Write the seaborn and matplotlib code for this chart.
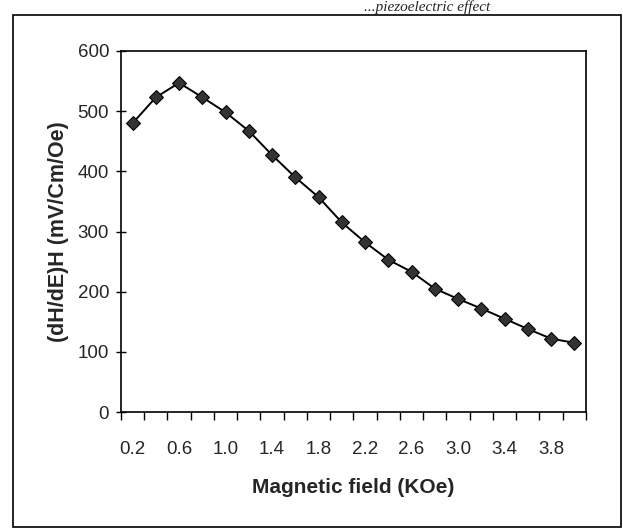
import numpy as np
import pandas as pd
import matplotlib
matplotlib.use("Agg")
import matplotlib.pyplot as plt
import seaborn as sns
from matplotlib.patches import Rectangle
from matplotlib.ticker import FixedLocator

# data
field = [0.2, 0.4, 0.6, 0.8, 1.0, 1.2, 1.4, 1.6, 1.8, 2.0,
         2.2, 2.4, 2.6, 2.8, 3.0, 3.2, 3.4, 3.6, 3.8, 4.0]
me_coeff = [480, 523, 547, 523, 498, 467, 427, 390, 357, 315,
            282, 253, 233, 205, 188, 172, 155, 138, 122, 115]
xtick_labels = ["0.2", "0.6", "1.0", "1.4", "1.8", "2.2", "2.6", "3.0", "3.4", "3.8"]

df = pd.DataFrame({"field": field, "me": me_coeff})

sns.set_style("white")
plt.rcParams["font.family"] = ["Liberation Sans", "DejaVu Sans"]

fig = plt.figure(figsize=(6.23, 5.31), dpi=100)
ax = fig.add_axes([0.1942, 0.224, 0.7464, 0.680])

sns.lineplot(data=df, x="field", y="me", ax=ax, color="black", linewidth=1.4,
             marker="D", markersize=7.5, markerfacecolor="#333333",
             markeredgecolor="black")

ax.set_xlim(0.1, 4.1)
ax.set_ylim(0, 600)
ax.set_yticks([0, 100, 200, 300, 400, 500, 600])
ax.xaxis.set_major_locator(FixedLocator([0.2 + 0.4 * i for i in range(10)]))
ax.set_xticklabels(xtick_labels)
ax.xaxis.set_minor_locator(FixedLocator([0.1 + 0.2 * i for i in range(21)]))
ax.tick_params(axis="x", which="major", length=0, labelsize=13.5, pad=21)
ax.tick_params(axis="x", which="minor", length=6, width=1, direction="out", color="black")
ax.tick_params(axis="y", length=7, width=1, direction="inout", labelsize=13.5, color="black", pad=5)
ax.tick_params(bottom=True, left=True, which="both")

for s in ax.spines.values():
    s.set_color("black")
    s.set_linewidth(1.2)

ax.set_xlabel("Magnetic field (KOe)", fontsize=15, fontweight="bold", labelpad=14)
ax.set_ylabel("(dH/dE)H (mV/Cm/Oe)", fontsize=15.5, fontweight="bold", labelpad=6)

# outer frame around the chart
fig.patches.append(Rectangle((0.021, 0.0075), 0.976, 0.964, transform=fig.transFigure,
                             fill=False, edgecolor="black", linewidth=1.2))

# caption fragment above the frame in the scan
fig.text(0.787, 0.987, "...piezoelectric effect", ha="right", va="center",
         fontsize=11, style="italic", family=["Liberation Serif", "DejaVu Serif"])

fig.savefig("out.png", dpi=100)
plt.close(fig)
